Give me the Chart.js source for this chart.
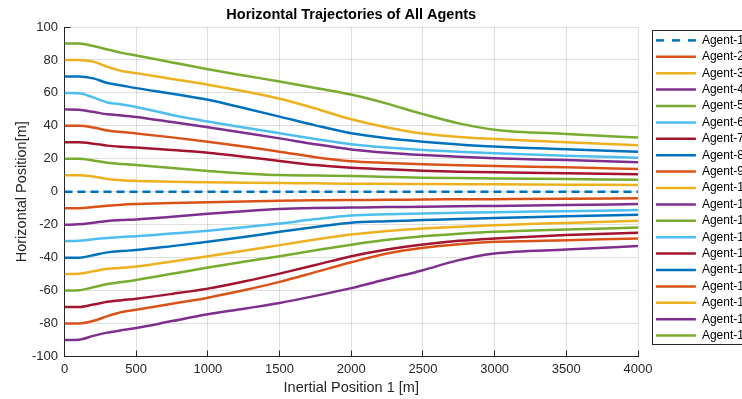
<!DOCTYPE html>
<html>
<head>
<meta charset="utf-8">
<title>Horizontal Trajectories of All Agents</title>
<script src="https://cdn.jsdelivr.net/npm/chart.js@4/dist/chart.umd.min.js"></script>
<style>
  html, body { margin: 0; padding: 0; background: #fff; overflow: hidden; }
  #frame { width: 742px; height: 399px; overflow: hidden; position: relative; }
  #wrap { position: absolute; left: 0; top: 0; width: 770px; height: 399px; }
</style>
</head>
<body>
<div id="frame"><div id="wrap"><canvas id="traj"></canvas></div></div>
<script>
// Inertial position 1 [m] at which each trajectory is sampled
const inertialPos = [0, 100, 200, 300, 400, 500, 750, 1000, 1250, 1500, 1750, 2000, 2250, 2500, 2750, 3000, 3500, 4000];

// Horizontal position [m] of each agent
const agent1  = [0, 0, 0, 0, 0, 0, 0, 0, 0, 0, 0, 0, 0, 0, 0, 0, 0, 0];
const agent2  = [-10, -10, -9.3, -8.5, -7.9, -7.5, -6.8, -6.3, -5.9, -5.5, -5.2, -5.0, -4.9, -4.7, -4.6, -4.5, -4.3, -4.0];
const agent3  = [10, 10, 9.2, 7.8, 7.0, 6.6, 6.0, 5.7, 5.5, 5.3, 5.1, 4.9, 4.8, 4.7, 4.6, 4.5, 4.3, 4.1];
const agent4  = [-20, -19.8, -18.8, -17.7, -17.2, -16.8, -15.2, -13.4, -11.8, -10.5, -9.9, -9.6, -9.3, -9.1, -8.8, -8.6, -8.1, -7.5];
const agent5  = [20, 20, 19, 17.6, 16.8, 16.2, 14.4, 12.6, 11.1, 10.1, 9.8, 9.6, 9.0, 8.5, 8.3, 8.1, 7.7, 7.3];
const agent6  = [-30, -29.8, -28.8, -28, -27.4, -27, -25.4, -23.7, -21.6, -19.3, -16.6, -14.4, -13.7, -13.2, -12.8, -12.4, -11.8, -11.1];
const agent7  = [30, 30, 29.2, 28, 27.3, 26.8, 25.3, 23.7, 21.3, 18.7, 16.2, 14.5, 13.6, 12.8, 12.2, 11.8, 11.2, 10.6];
const agent8  = [-40, -40, -38.5, -36.8, -36, -35.4, -33, -30.4, -27.5, -24.3, -21.4, -18.8, -17.9, -17.2, -16.5, -16, -14.8, -14];
const agent9  = [40, 40, 39, 37.2, 36.2, 35.4, 33, 30.4, 27.5, 24.3, 21, 18.5, 17.5, 16.7, 16.1, 15.6, 14.8, 13.8];
const agent10 = [-50, -49.8, -48.3, -46.8, -46.2, -45.4, -42.3, -39.1, -35.8, -32.4, -29, -26, -23.8, -22.3, -21.2, -20.3, -18.9, -17.6];
const agent11 = [50, 49.8, 48.5, 47, 46.3, 45.4, 42.3, 39.1, 35.8, 32.4, 28.8, 25.7, 23.7, 22.3, 21.2, 20.3, 19.2, 17.9];
const agent12 = [-60, -59.8, -58, -56, -54.8, -53.5, -49.8, -46, -42.5, -39.1, -35.5, -32.2, -29.2, -27, -25.5, -24.3, -22.9, -21.7];
const agent13 = [60, 59.8, 57.3, 54.2, 53, 51.5, 46.6, 42.6, 39, 35.5, 32, 28.8, 26.8, 25.4, 24.3, 23.4, 21.9, 20.7];
const agent14 = [-70, -70, -68.5, -66.8, -65.8, -64.9, -62, -58.8, -54.5, -49.7, -44.5, -39.1, -35, -32, -29.8, -28.4, -26.3, -24.9];
const agent15 = [70, 70, 68.8, 66, 64.5, 62.9, 59.5, 55.8, 50.8, 45.6, 40.3, 35.5, 32.5, 30.4, 28.7, 27.4, 25.8, 24.3];
const agent16 = [-80, -80, -78.5, -75.5, -73, -71.6, -68, -64.3, -59.8, -54.7, -48.8, -42.8, -37.5, -34, -31.8, -30.4, -29.4, -28.4];
const agent17 = [80, 80, 79, 75.8, 73.3, 72, 68.5, 65, 61, 56.4, 50.5, 44, 39, 35.3, 33.2, 32, 30, 28.2];
const agent18 = [-90, -89.8, -87.5, -85.5, -84, -82.7, -78.5, -74.4, -71, -67.5, -63.2, -58.5, -53, -47.6, -41.5, -37.5, -35.1, -33];
const agent19 = [90, 90, 88.5, 86.3, 84.3, 82.7, 78.5, 74.4, 70.6, 66.9, 63, 59, 53.5, 47.1, 41.5, 37.7, 35, 32.9];

const agentSeries = [agent1, agent2, agent3, agent4, agent5, agent6, agent7, agent8, agent9, agent10,
                     agent11, agent12, agent13, agent14, agent15, agent16, agent17, agent18, agent19];
const agentNames = agentSeries.map((_, i) => 'Agent-' + (i + 1));

// Axis ticks
const xTickValues = [0, 500, 1000, 1500, 2000, 2500, 3000, 3500, 4000];
const xTickLabels = ['0', '500', '1000', '1500', '2000', '2500', '3000', '3500', '4000'];
const yTickValues = [-100, -80, -60, -40, -20, 0, 20, 40, 60, 80, 100];
const yTickLabels = ['-100', '-80', '-60', '-40', '-20', '0', '20', '40', '60', '80', '100'];

// Colour order cycled over the agents
const palette = ['#0072BD', '#D95319', '#EDB120', '#7E2F8E', '#77AC30', '#4DBEEE', '#A2142F'];

const FONT = "'Liberation Sans', Arial, Helvetica, sans-serif";
const AXIS_COLOR = '#262626';
const GRID_COLOR = 'rgba(38,38,38,0.15)';

const datasets = agentSeries.map((series, i) => ({
  label: agentNames[i],
  data: inertialPos.map((x, k) => ({ x: x, y: series[k] })),
  borderColor: palette[i % palette.length],
  backgroundColor: palette[i % palette.length],
  borderWidth: 2.5,
  borderDash: i === 0 ? [8, 5] : [],
  pointRadius: 0,
  pointHoverRadius: 0,
  fill: false,
  cubicInterpolationMode: 'monotone'
}));

// Legend sits a little right of the axes with a thin frame around it
const LEGEND_TOP = 30;
const legendFrame = {
  id: 'legendFrame',
  afterLayout(chart) {
    const lg = chart.legend;
    if (!lg) return;
    lg.left += 13.5;
    lg.right += 13.5;
    lg.top = LEGEND_TOP;
  },
  afterDraw(chart) {
    const lg = chart.legend;
    if (!lg) return;
    const ctx = chart.ctx;
    ctx.save();
    ctx.strokeStyle = AXIS_COLOR;
    ctx.lineWidth = 1;
    ctx.strokeRect(Math.round(lg.left) + 0.5, LEGEND_TOP + 0.5, 200, 314);
    ctx.restore();
  }
};

new Chart(document.getElementById('traj'), {
  type: 'line',
  data: { datasets: datasets },
  plugins: [legendFrame],
  options: {
    responsive: true,
    maintainAspectRatio: false,
    animation: false,
    devicePixelRatio: 1,
    layout: { padding: { left: 0, right: 32, top: 0, bottom: 0 } },
    interaction: { mode: null },
    plugins: {
      tooltip: { enabled: false },
      title: {
        display: true,
        text: 'Horizontal Trajectories of All Agents',
        color: '#000',
        fullSize: false,
        font: { family: FONT, size: 14.5, weight: 'bold' },
        padding: { top: 6, bottom: 3.6 }
      },
      legend: {
        display: true,
        position: 'right',
        align: 'start',
        maxWidth: 100,
        labels: {
          color: '#000',
          font: { family: FONT, size: 12 },
          padding: 4.4,
          usePointStyle: true,
          pointStyle: 'line',
          pointStyleWidth: 40,
          generateLabels(chart) {
            return chart.data.datasets.map((ds, i) => ({
              text: ds.label,
              fontColor: '#000',
              strokeStyle: ds.borderColor,
              fillStyle: ds.borderColor,
              lineWidth: ds.borderWidth,
              lineDash: i === 0 ? [8, 8] : [],
              lineCap: 'butt',
              pointStyle: 'line',
              hidden: false,
              datasetIndex: i
            }));
          }
        }
      }
    },
    scales: {
      x: {
        type: 'linear',
        min: 0,
        max: 4000,
        afterBuildTicks(scale) { scale.ticks = xTickValues.map(v => ({ value: v })); },
        afterFit(scale) { scale.height = 42.5; },
        ticks: {
          color: AXIS_COLOR,
          font: { family: FONT, size: 13 },
          padding: 11.5,
          maxRotation: 0,
          autoSkip: false,
          callback: (v, i) => xTickLabels[i]
        },
        grid: { color: GRID_COLOR, tickColor: AXIS_COLOR, tickLength: -6, lineWidth: 1 },
        border: { display: true, color: AXIS_COLOR, width: 1 },
        title: {
          display: true,
          text: 'Inertial Position 1 [m]',
          color: AXIS_COLOR,
          font: { family: FONT, size: 14.5 },
          padding: { top: 0, bottom: 2.3 }
        }
      },
      y: {
        type: 'linear',
        min: -100,
        max: 100,
        afterBuildTicks(scale) { scale.ticks = yTickValues.map(v => ({ value: v })); },
        afterFit(scale) { scale.width = 64.5; },
        ticks: {
          color: AXIS_COLOR,
          font: { family: FONT, size: 13 },
          padding: 12.5,
          autoSkip: false,
          callback: (v, i) => yTickLabels[i]
        },
        grid: { color: GRID_COLOR, tickColor: AXIS_COLOR, tickLength: -6, lineWidth: 1 },
        border: { display: true, color: AXIS_COLOR, width: 1 },
        title: {
          display: true,
          text: 'Horizontal Position[m]',
          color: AXIS_COLOR,
          font: { family: FONT, size: 14.5 },
          padding: { top: 13, bottom: 0 }
        }
      }
    }
  }
});
</script>
</body>
</html>
